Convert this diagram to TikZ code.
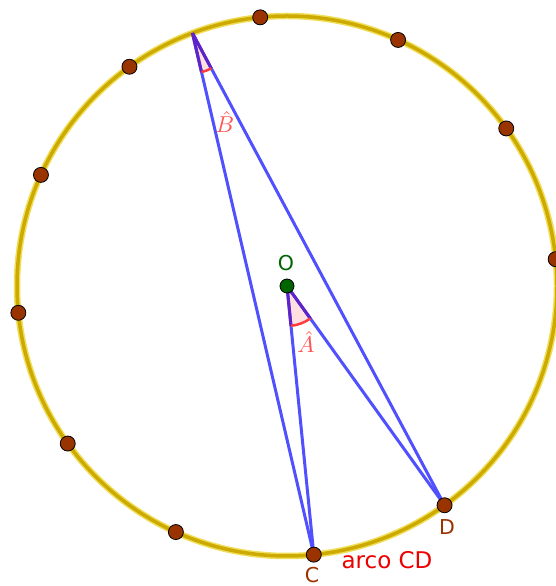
\documentclass[tikz,border=0pt]{standalone}
\usepackage{fontspec}
\setsansfont{DejaVu Sans}
\usetikzlibrary{angles,calc}
\definecolor{ring}{RGB}{205,170,0}
\definecolor{ringlight}{RGB}{240,222,90}
\definecolor{dotbrown}{RGB}{153,51,0}
\definecolor{seg}{RGB}{80,80,255}
\definecolor{angred}{RGB}{255,60,60}
\definecolor{anglab}{RGB}{255,85,85}
\definecolor{ogreen}{RGB}{0,100,0}
\definecolor{edgepurple}{RGB}{95,35,200}
\definecolor{arcred}{RGB}{235,0,0}
\begin{document}
\begin{tikzpicture}[x=1pt,y=1pt,
  ptdot/.style={circle, fill=dotbrown, draw=black, line width=0.8pt, minimum size=15pt, inner sep=0pt},
  odot/.style={circle, fill=ogreen, draw=black, line width=0.8pt, minimum size=14pt, inner sep=0pt},
  segline/.style={seg, line width=3pt},
  edgeline/.style={edgepurple, line width=3pt},
  sector/.style={fill=red!12, angle radius=40pt},
  arcmark/.style={draw=angred, line width=2.5pt, angle radius=40pt},
  ptlabel/.style={font=\sffamily\fontsize{20.5}{24}\selectfont, inner sep=0pt},
  anglabel/.style={text=anglab, font=\normalsize, scale=2.3, inner sep=0pt}]
\useasboundingbox (0,0) rectangle (556,586);
\coordinate (O) at (287,300);
\draw[ringlight, line width=6.5pt] (O) circle[radius=270];
\draw[ring, line width=3.5pt] (O) circle[radius=270];
\coordinate (B) at ($(O)+(110.5:270)$);
\coordinate (C) at ($(O)+(275.7:270)$);
\coordinate (D) at ($(O)+(305.7:270)$);
% sectors
\pic[sector] {angle=C--B--D};
\pic[sector] {angle=C--O--D};
% segments
\draw[segline] (B) -- (C);
\draw[segline] (B) -- (D);
\draw[segline] (O) -- (C);
\draw[segline] (O) -- (D);
% sector edges
\draw[edgeline] (B) -- ($(B)!40pt!(C)$);
\draw[edgeline] (B) -- ($(B)!40pt!(D)$);
\draw[edgeline] (O) -- ($(O)!40pt!(C)$);
\draw[edgeline] (O) -- ($(O)!40pt!(D)$);
\pic[arcmark] {angle=C--B--D};
\pic[arcmark] {angle=C--O--D};
% points on circle
\foreach \a/\n in {5.7/p1,35.7/p2,65.7/p3,95.7/p4,125.7/p5,155.7/p6,185.7/p7,215.7/p8,245.7/p9}
  \node[ptdot] (\n) at ($(O)+(\a:270)$) {};
\node[ptdot] (Cdot) at (C) {};
\node[ptdot] (Ddot) at (D) {};
\node[odot] (Odot) at (O) {};
% labels
\node[ptlabel, text=ogreen] (Olab) at (286,323) {O};
\node[ptlabel, text=dotbrown] (Clab) at (312,11) {C};
\node[ptlabel, text=dotbrown] (Dlab) at (447,59) {D};
\node[ptlabel, text=arcred, font=\sffamily\fontsize{23}{27}\selectfont] (arclab) at (387,26) {arco CD};
\node[anglabel] (Blab) at (225,464) {$\hat{B}$};
\node[anglabel] (Alab) at (306,244) {$\hat{A}$};
\end{tikzpicture}
\end{document}
